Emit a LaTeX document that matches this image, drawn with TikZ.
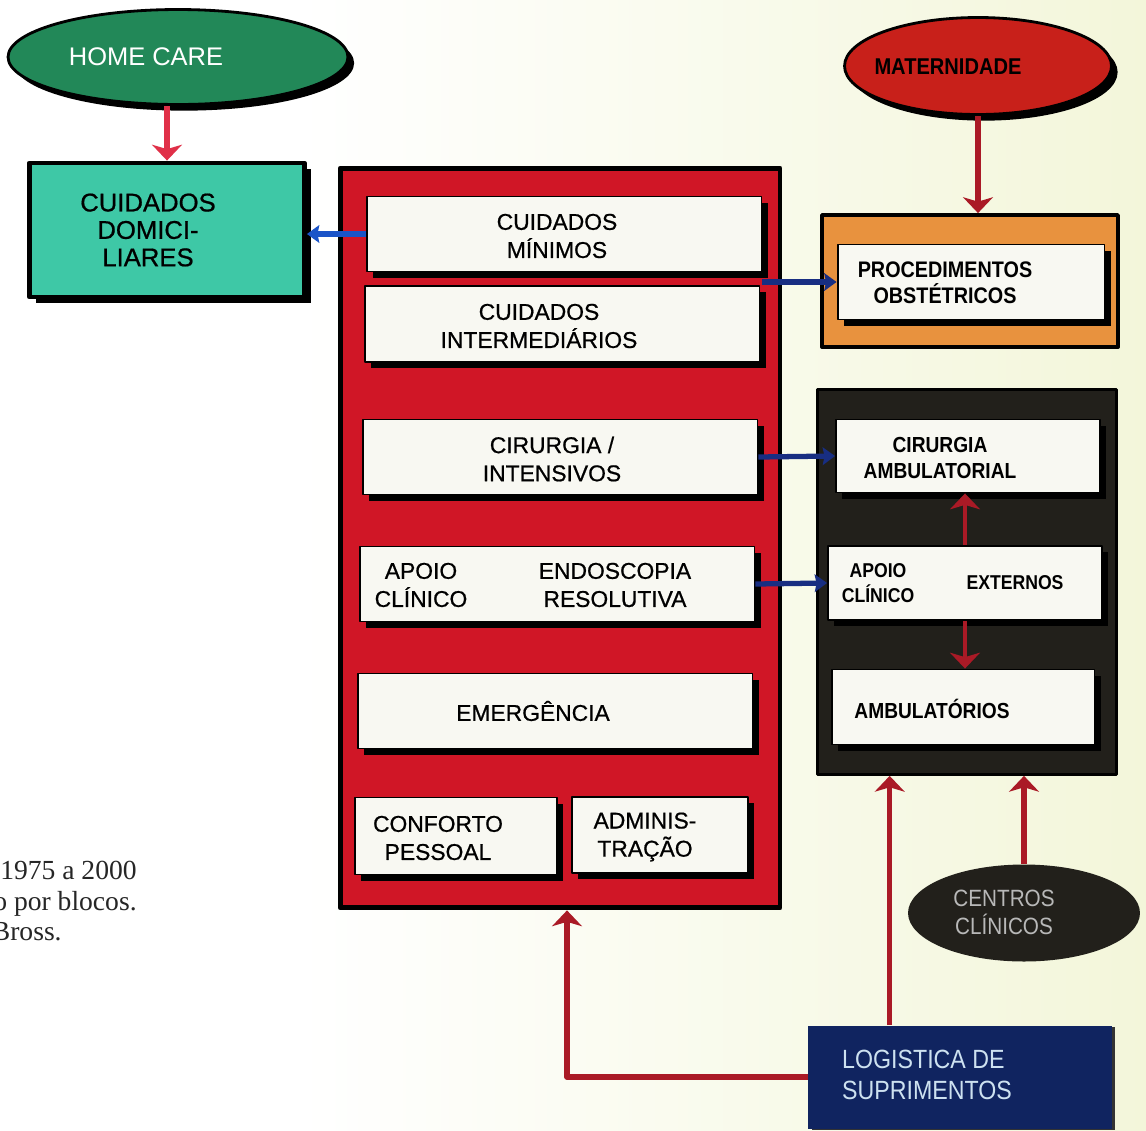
\documentclass[tikz,border=0pt]{standalone}
\usepackage{fontspec}
\setmainfont{Liberation Serif}
\setsansfont{Liberation Sans}
\newfontfamily\boxsans[FakeBold=0.7]{Liberation Sans}
\newfontfamily\condsans[FakeStretch=0.88]{Liberation Sans}
\usetikzlibrary{arrows.meta,shapes.geometric,shadows}

\definecolor{paper}{RGB}{243,246,218}
\definecolor{homegreen}{RGB}{34,136,88}
\definecolor{domteal}{RGB}{62,200,166}
\definecolor{hospred}{RGB}{208,22,38}
\definecolor{materred}{RGB}{200,32,26}
\definecolor{obstorange}{RGB}{232,146,62}
\definecolor{ambdark}{RGB}{34,32,27}
\definecolor{cellwhite}{RGB}{248,248,242}
\definecolor{logblue}{RGB}{16,36,96}
\definecolor{loglight}{RGB}{205,225,240}
\definecolor{linkblue}{RGB}{26,84,200}
\definecolor{linknavy}{RGB}{24,46,130}
\definecolor{linkpink}{RGB}{224,48,72}
\definecolor{linkred}{RGB}{170,26,38}

\begin{document}
\begin{tikzpicture}[x=0.02cm, y=-0.02cm, line join=round,
  shade/.style={drop shadow={shadow xshift=3.5pt, shadow yshift=-3.5pt, fill=black, opacity=1}},
  cell/.style={draw=black, line width=1.1pt, fill=cellwhite, inner sep=0pt, shade},
  blob/.style={ellipse, draw=black, line width=1.6pt, inner sep=0pt, shade},
  txt/.style={align=center, font=\fontsize{13}{16}\selectfont\boxsans},
  rtxt/.style={align=center, font=\fontsize{12.4}{14.5}\selectfont\condsans\bfseries},
  caption/.style={font=\fontsize{15.7}{18}\selectfont, text=black!85, inner sep=0pt},
  redlink/.style={draw=linkred, line width=3pt, -{Stealth[length=9pt, width=17pt, inset=2.5pt]}},
  bluelink/.style={draw=linknavy, line width=3pt, -{Stealth[length=7pt, width=10pt, inset=1pt]}}]

  % Page
  \path[use as bounding box, clip] (0,0) rectangle (1146,1130);
  \fill[white] (0,0) rectangle (1146,1130);
  \shade[left color=white, right color=paper] (300,0) rectangle (1146,1130);

  % Home care
  \node[blob, fill=homegreen, minimum width=6.8cm, minimum height=1.9cm] (home) at (178,57) {};
  \node[font=\fontsize{14.5}{16}\selectfont\sffamily, text=white] (homeT) at (146,57) {HOME CARE};
  \node[draw=black, line width=2.8pt, fill=domteal, minimum width=5.5cm, minimum height=2.68cm, shade] (domic) at (167,230) {};
  \node[align=center, font=\fontsize{14.6}{15.6}\selectfont\boxsans] (domicT) at (148,230) {CUIDADOS\\DOMICI-\\LIARES};

  % Hospital blocks
  \node[draw=black, line width=2.8pt, fill=hospred, minimum width=8.8cm, minimum height=14.8cm] (hosp) at (560,538) {};
  \node[cell, minimum width=7.9cm, minimum height=1.5cm] (minimos) at (564,234) {};
  \node[txt] (minimosT) at (557,236) {CUIDADOS\\MÍNIMOS};
  \node[cell, minimum width=7.9cm, minimum height=1.52cm] (interm) at (562,324) {};
  \node[txt] (intermT) at (539,326) {CUIDADOS\\INTERMEDIÁRIOS};
  \node[cell, minimum width=7.9cm, minimum height=1.5cm] (cirurg) at (560,457) {};
  \node[txt] (cirurgT) at (552,459) {CIRURGIA /\\INTENSIVOS};
  \node[cell, minimum width=7.9cm, minimum height=1.5cm] (apoio) at (557,584) {};
  \node[txt] (apoioT) at (421,585) {APOIO\\CLÍNICO};
  \node[txt] (endoT) at (615,585) {ENDOSCOPIA\\RESOLUTIVA};
  \node[cell, minimum width=7.9cm, minimum height=1.5cm] (emerg) at (555,711) {};
  \node[txt] (emergT) at (533,711) {EMERGÊNCIA};
  \node[cell, minimum width=4.04cm, minimum height=1.54cm] (confort) at (456,836) {};
  \node[txt] (confortT) at (438,838) {CONFORTO\\PESSOAL};
  \node[cell, minimum width=3.52cm, minimum height=1.52cm] (admin) at (660,835) {};
  \node[txt] (adminT) at (645,837) {ADMINIS-\\TRAÇÃO};

  % Maternity
  \node[blob, fill=materred, minimum width=5.34cm, minimum height=1.94cm] (mater) at (978,66) {};
  \node[font=\fontsize{13}{15}\selectfont\condsans\bfseries] (materT) at (948,67) {MATERNIDADE};
  \node[draw=black, line width=2.2pt, fill=obstorange, minimum width=5.92cm, minimum height=2.64cm] (obst) at (970,281) {};
  \node[cell, minimum width=5.34cm, minimum height=1.5cm] (proced) at (971,282) {};
  \node[rtxt, font=\fontsize{12.8}{15}\selectfont\condsans\bfseries] (procedT) at (945,283) {PROCEDIMENTOS\\OBSTÉTRICOS};

  % Outpatient blocks
  \node[draw=black, line width=1.6pt, fill=ambdark, minimum width=5.98cm, minimum height=7.7cm] (amb) at (967,582) {};
  \node[cell, minimum width=5.28cm, minimum height=1.46cm] (ambcir) at (968,456) {};
  \node[rtxt] (ambcirT) at (940,458) {CIRURGIA\\AMBULATORIAL};
  \node[cell, minimum width=5.48cm, minimum height=1.48cm] (apoext) at (965,583) {};
  \node[rtxt, font=\fontsize{11.4}{14}\selectfont\condsans\bfseries] (apoextT) at (878,583) {APOIO\\CLÍNICO};
  \node[rtxt, font=\fontsize{11.4}{14}\selectfont\condsans\bfseries] (externT) at (1015,583) {EXTERNOS};
  \node[cell, minimum width=5.26cm, minimum height=1.5cm] (ambul) at (963,707) {};
  \node[rtxt] (ambulT) at (932,709) {AMBULATÓRIOS};

  % Clinics and supplies
  \node[ellipse, fill=ambdark, minimum width=4.64cm, minimum height=1.94cm] (centros) at (1024,913) {};
  \node[align=center, font=\fontsize{13.4}{16}\selectfont\condsans, text=black!28] (centrosT) at (1004,912) {CENTROS\\CLÍNICOS};
  \node[fill=logblue, minimum width=6.08cm, minimum height=2.06cm,
        drop shadow={shadow xshift=2pt, shadow yshift=-1pt, fill=black!80, opacity=1}] (logis) at (960,1077) {};
  \node[align=left, anchor=west, font=\fontsize{15}{18}\selectfont\condsans, text=loglight] (logisT) at (836,1075) {LOGISTICA DE\\SUPRIMENTOS};

  % Links
  \draw[redlink, draw=linkpink] (home.south -| domic.north) -- (domic.north);
  \draw[redlink] (mater.south) -- (mater.south |- obst.north);
  \draw[bluelink, draw=linkblue] (minimos.west) -- (minimos.west -| domic.east);
  \draw[bluelink] (proced.west -| minimos.east) -- (proced.west);
  \draw[bluelink] (cirurg.east) -- (ambcir.west);
  \draw[bluelink] (apoio.east) -- (apoext.west);
  \draw[redlink, line width=2.4pt] (apoext.north) -- (apoext.north |- ambcir.south);
  \draw[redlink, line width=2.4pt] (apoext.south) -- (apoext.south |- ambul.north);
  \draw[redlink] (centros.north) -- (centros.north |- amb.south);
  \draw[redlink] ([xshift=1.64cm]logis.north west) -- ([xshift=1.64cm]logis.north west |- amb.south);
  \draw[redlink] (logis.west) -| ([xshift=0.14cm]hosp.south);

  % Caption
  \node[caption, anchor=base east] (capA) at (137,879) {1975 a 2000};
  \node[caption, anchor=base east] (capB) at (137,910) {o por blocos.};
  \node[caption, anchor=base east] (capC) at (62,940) {Bross.};
\end{tikzpicture}
\end{document}
